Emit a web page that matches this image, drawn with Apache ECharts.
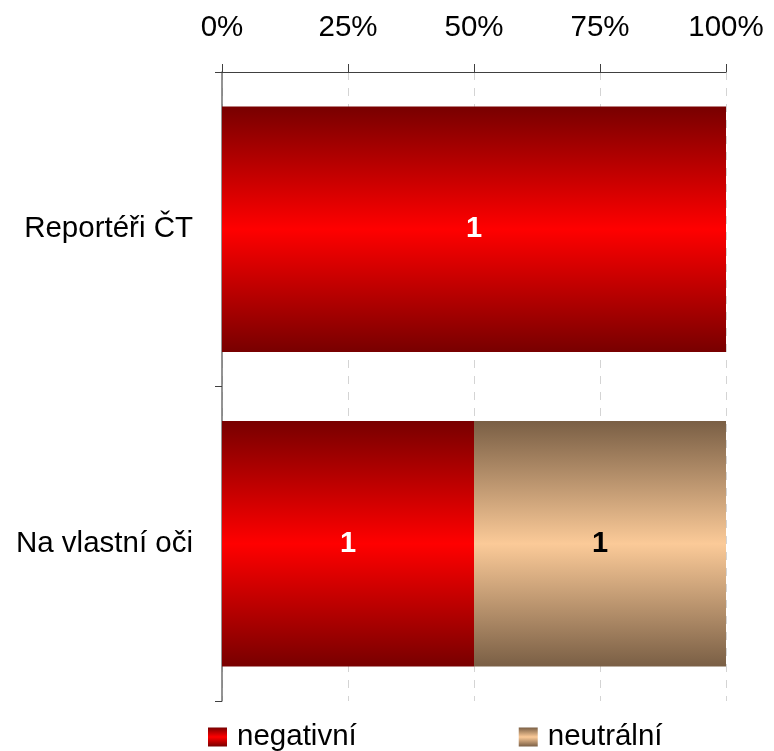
<!DOCTYPE html>
<html>
<head>
<meta charset="utf-8">
<script src="https://cdn.jsdelivr.net/npm/echarts@6/dist/echarts.min.js"></script>
<style>
  html, body { margin: 0; padding: 0; background: #fff; }
  #chart { width: 774px; height: 751px; }
</style>
</head>
<body>
<div id="chart"></div>
<script>
// categories top to bottom
const categories = ['Reportéři ČT', 'Na vlastní oči'];
// raw counts per category
const negativni = [1, 1];
const neutralni = [0, 1];
const tickLabels = ['0%', '25%', '50%', '75%', '100%'];

const totals = categories.map((c, i) => negativni[i] + neutralni[i]);
const share = arr => arr.map((v, i) => totals[i] ? v / totals[i] * 100 : 0);

const vGrad = (edge, mid) => ({
  type: 'linear', x: 0, y: 0, x2: 0, y2: 1,
  colorStops: [
    { offset: 0, color: edge },
    { offset: 0.5, color: mid },
    { offset: 1, color: edge }
  ]
});

const font = '"Liberation Sans", Arial, sans-serif';
const fs = 29.5;

const chart = echarts.init(document.getElementById('chart'));
const option = {
  animation: false,
  textStyle: { fontFamily: font, color: '#000' },
  grid: { left: 222, right: 48, top: 72, bottom: 50 },
  xAxis: {
    type: 'value',
    position: 'top',
    min: 0,
    max: 100,
    interval: 25,
    axisLine: { show: true, lineStyle: { color: '#404040', width: 1 } },
    axisTick: { show: true, length: 8, lineStyle: { color: '#404040' } },
    axisLabel: {
      margin: 29,
      fontSize: fs,
      color: '#000',
      fontFamily: font,
      formatter: v => tickLabels[Math.round(v / 25)]
    },
    splitLine: { show: true, lineStyle: { color: '#d4d4d4', type: [8, 8], width: 1 } }
  },
  yAxis: {
    type: 'category',
    inverse: true,
    data: categories,
    axisLine: { show: true, lineStyle: { color: '#707070', width: 1.5 } },
    axisTick: { show: true, length: 7, lineStyle: { color: '#404040' } },
    axisLabel: { margin: 29, fontSize: fs, color: '#000', fontFamily: font }
  },
  legend: {
    top: 717,
    left: 203,
    itemWidth: 19,
    itemHeight: 19,
    itemGap: 162,
    icon: 'rect',
    textStyle: { fontSize: fs, color: '#000', fontFamily: font, padding: [0, 0, 0, 5] },
    data: ['negativní', 'neutrální']
  },
  series: [
    {
      name: 'negativní',
      type: 'bar',
      stack: 'all',
      barCategoryGap: '22%',
      data: share(negativni),
      itemStyle: { color: vGrad('#780000', '#ff0000') },
      label: {
        show: true,
        position: 'inside',
        color: '#fff',
        fontWeight: 'bold',
        fontSize: 29,
        fontFamily: font,
        formatter: p => negativni[p.dataIndex] ? String(negativni[p.dataIndex]) : ''
      }
    },
    {
      name: 'neutrální',
      type: 'bar',
      stack: 'all',
      barCategoryGap: '22%',
      data: share(neutralni),
      itemStyle: { color: vGrad('#7a5f45', '#fbca98') },
      label: {
        show: true,
        position: 'inside',
        color: '#000',
        fontWeight: 'bold',
        fontSize: 29,
        fontFamily: font,
        formatter: p => neutralni[p.dataIndex] ? String(neutralni[p.dataIndex]) : ''
      }
    }
  ]
};
chart.setOption(option);
</script>
</body>
</html>
